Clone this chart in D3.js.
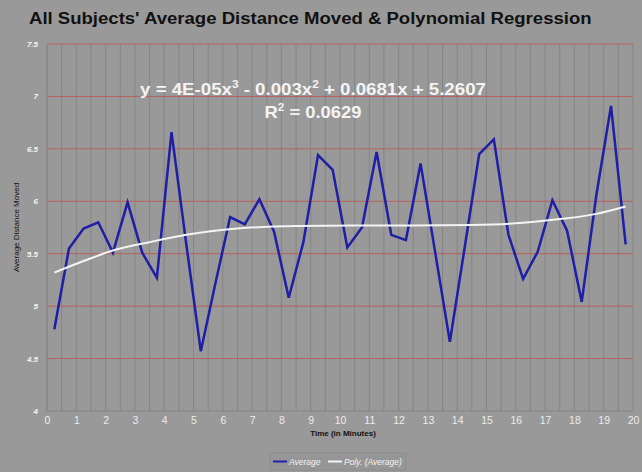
<!DOCTYPE html>
<html>
<head>
<meta charset="utf-8">
<script src="https://cdn.jsdelivr.net/npm/d3@7"></script>
<style>
  html, body { margin: 0; padding: 0; background: #999999; }
  svg { display: block; font-family: "Liberation Sans", Arial, sans-serif; }
</style>
</head>
<body>
<svg id="chart" width="642" height="472"></svg>
<script>
// ---- data ----
const times = [0.25, 0.75, 1.25, 1.75, 2.25, 2.75, 3.25, 3.75, 4.25, 4.75,
               5.25, 5.75, 6.25, 6.75, 7.25, 7.75, 8.25, 8.75, 9.25, 9.75,
               10.25, 10.75, 11.25, 11.75, 12.25, 12.75, 13.25, 13.75, 14.25, 14.75,
               15.25, 15.75, 16.25, 16.75, 17.25, 17.75, 18.25, 18.75, 19.25, 19.75];
const averages = [4.78, 5.55, 5.74, 5.80, 5.51, 5.99, 5.51, 5.27, 6.66, 5.60,
                  4.57, 5.22, 5.85, 5.78, 6.02, 5.71, 5.08, 5.61, 6.44, 6.30,
                  5.56, 5.75, 6.47, 5.68, 5.63, 6.36, 5.51, 4.66, 5.55, 6.45,
                  6.59, 5.68, 5.26, 5.52, 6.01, 5.72, 5.04, 6.06, 6.91, 5.59];
// polynomial trend line
const trendTimes  = [0.25, 1.25, 2.25, 3.5, 4.75, 6.5, 8.5, 10.5, 12.5, 14.5, 16, 17.5, 18.75, 19.75];
const trendValues = [5.32, 5.43, 5.53, 5.61, 5.68, 5.74, 5.765, 5.77, 5.77, 5.775, 5.79, 5.83, 5.88, 5.95];
const xTickLabels = [0,1,2,3,4,5,6,7,8,9,10,11,12,13,14,15,16,17,18,19,20];
const yTickLabels = [4, 4.5, 5, 5.5, 6, 6.5, 7, 7.5];
const titleText = "All Subjects' Average Distance Moved & Polynomial Regression";
const xTitle = "Time (in Minutes)";
const yTitle = "Average Distance Moved";
const seriesNames = ["Average", "Poly. (Average)"];

// ---- layout ----
const W = 642, H = 472;
const m = { left: 47, right: 9, top: 44, bottom: 61 };
const svg = d3.select("#chart");

svg.append("rect").attr("width", W).attr("height", H).attr("fill", "#999999");

const x = d3.scaleLinear().domain([0, 20]).range([m.left, W - m.right]);
const y = d3.scaleLinear().domain([4, 7.5]).range([H - m.bottom, m.top]);

// horizontally stretch a text block so that it spans a given width
function stretch(sel, cx, targetW) {
  const bb = sel.node().getBBox();
  const sx = targetW / bb.width;
  sel.attr("transform", `translate(${cx},0) scale(${sx},1) translate(${-cx},0)`);
}

// vertical grid (every half minute)
const vGrid = d3.range(0, 20.001, 0.5);
svg.append("g").selectAll("line").data(vGrid).join("line")
  .attr("x1", d => x(d)).attr("x2", d => x(d))
  .attr("y1", y(4)).attr("y2", y(7.5))
  .attr("stroke", "#858585").attr("stroke-width", 1);

// horizontal red grid
svg.append("g").selectAll("line").data(yTickLabels.filter(v => v > 4)).join("line")
  .attr("x1", x(0)).attr("x2", x(20))
  .attr("y1", d => y(d)).attr("y2", d => y(d))
  .attr("stroke", "#b8605c").attr("stroke-width", 1);

// axis lines
svg.append("line").attr("x1", x(0)).attr("x2", x(20)).attr("y1", y(4)).attr("y2", y(4))
  .attr("stroke", "#858585").attr("stroke-width", 1);
svg.append("line").attr("x1", x(0)).attr("x2", x(0)).attr("y1", y(4)).attr("y2", y(7.5))
  .attr("stroke", "#858585").attr("stroke-width", 1);

// x axis labels
const xAxis = svg.append("g").attr("transform", `translate(0,${y(4)})`)
  .call(d3.axisBottom(x).tickValues(xTickLabels).tickSize(0).tickPadding(6).tickFormat(d3.format("d")));
xAxis.select(".domain").remove();
xAxis.selectAll("text").attr("fill", "#ececec").attr("font-size", "10.5px")
  .attr("font-family", "Liberation Sans, Arial, sans-serif");

// y axis labels
const yAxis = svg.append("g").attr("transform", `translate(${x(0)},0)`)
  .call(d3.axisLeft(y).tickValues(yTickLabels).tickSize(0).tickPadding(9).tickFormat(d => String(d)));
yAxis.select(".domain").remove();
yAxis.selectAll("text").attr("fill", "#f4f4f4").attr("font-size", "8px")
  .attr("font-style", "italic").attr("font-weight", "bold")
  .attr("font-family", "Liberation Sans, Arial, sans-serif");

// data line
const line = d3.line().x((d, i) => x(times[i])).y(d => y(d));
svg.append("path").datum(averages).attr("d", line)
  .attr("fill", "none").attr("stroke", "#1e1ea6").attr("stroke-width", 2.5)
  .attr("stroke-linejoin", "miter");

// trend line
const tline = d3.line().x((d, i) => x(trendTimes[i])).y(d => y(d)).curve(d3.curveMonotoneX);
svg.append("path").datum(trendValues).attr("d", tline)
  .attr("fill", "none").attr("stroke", "#f4f4f4").attr("stroke-width", 2);

// title
const title = svg.append("text").attr("x", 29).attr("y", 24)
  .attr("font-size", "16px").attr("font-weight", "bold").attr("fill", "#111")
  .text(titleText);
stretch(title, 29, 563);

// equation
const eq = svg.append("text").attr("x", 313).attr("y", 95).attr("text-anchor", "middle")
  .attr("font-size", "16.5px").attr("font-weight", "bold").attr("fill", "#f4f4f4");
eq.append("tspan").text("y = 4E-05x");
eq.append("tspan").attr("font-size", "10.5px").attr("dy", -7).text("3");
eq.append("tspan").attr("dy", 7).text(" - 0.003x");
eq.append("tspan").attr("font-size", "10.5px").attr("dy", -7).text("2");
eq.append("tspan").attr("dy", 7).text(" + 0.0681x + 5.2607");
stretch(eq, 313, 346);

const r2 = svg.append("text").attr("x", 313).attr("y", 118.5).attr("text-anchor", "middle")
  .attr("font-size", "16.5px").attr("font-weight", "bold").attr("fill", "#f4f4f4");
r2.append("tspan").text("R");
r2.append("tspan").attr("font-size", "10.5px").attr("dy", -7).text("2");
r2.append("tspan").attr("dy", 7).text(" = 0.0629");
stretch(r2, 313, 97);

// axis titles
svg.append("text").attr("x", x(10) + 3).attr("y", 436).attr("text-anchor", "middle")
  .attr("font-size", "8px").attr("font-weight", "bold").attr("fill", "#111").text(xTitle);
svg.append("text").attr("transform", `translate(19,${(y(4) + y(7.5)) / 2}) rotate(-90)`)
  .attr("text-anchor", "middle").attr("font-size", "8px").attr("fill", "#111").text(yTitle);

// legend
const lg = svg.append("g").attr("transform", "translate(270,453)");
lg.append("rect").attr("width", 136).attr("height", 17)
  .attr("fill", "#969696").attr("stroke", "#8c8c8c").attr("stroke-width", 1);
const lItems = lg.selectAll("g").data(seriesNames).join("g")
  .attr("transform", (d, i) => `translate(${i === 0 ? 3 : 58},0)`);
lItems.append("line").attr("x1", 0).attr("x2", 14).attr("y1", 8.5).attr("y2", 8.5)
  .attr("stroke", (d, i) => i === 0 ? "#1e1ea6" : "#f4f4f4").attr("stroke-width", 2);
lItems.append("text").attr("x", 16).attr("y", 11.5)
  .attr("font-size", "8.5px").attr("font-style", "italic").attr("fill", "#f4f4f4").text(d => d);
</script>
</body>
</html>
